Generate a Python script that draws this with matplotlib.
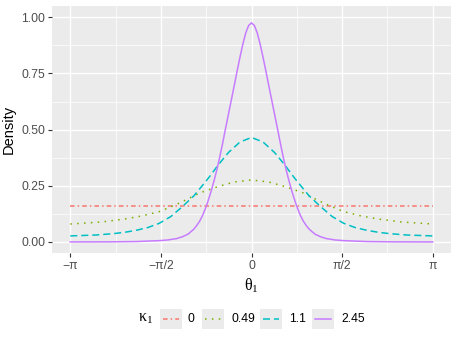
import numpy as np
import matplotlib
matplotlib.use("Agg")
import matplotlib.pyplot as plt
from matplotlib.patches import Rectangle
from matplotlib.lines import Line2D

plt.rcParams['font.family'] = ['Liberation Sans', 'DejaVu Sans']
plt.rcParams['mathtext.fontset'] = 'custom'
plt.rcParams['mathtext.rm'] = 'Liberation Serif'

PI = np.pi

# values (theta in radians, density)
theta_k0 = [-PI, PI]
dens_k0 = [0.159, 0.159]

theta_k049 = [-PI, -2.6, -2.2, -1.9, -1.6, -1.3, -1.1, -0.9, -0.6, -0.3, 0.0,
              0.3, 0.6, 0.9, 1.1, 1.3, 1.6, 1.9, 2.2, 2.6, PI]
dens_k049 = [0.080, 0.089, 0.102, 0.116, 0.135, 0.167, 0.192, 0.218, 0.245, 0.267, 0.276,
             0.267, 0.245, 0.218, 0.192, 0.167, 0.135, 0.116, 0.102, 0.089, 0.080]

theta_k11 = [-PI, -2.7, -2.4, -2.2, -2.0, -1.8, -1.6, -1.4, -1.2, -1.0, -0.9, -0.8,
             -0.7, -0.6, -0.5, -0.4, -0.2, 0.0,
             0.2, 0.4, 0.5, 0.6, 0.7, 0.8, 0.9, 1.0, 1.2, 1.4, 1.6, 1.8, 2.0, 2.2,
             2.4, 2.7, PI]
dens_k11 = [0.027, 0.031, 0.037, 0.043, 0.052, 0.064, 0.083, 0.113, 0.157, 0.205, 0.236, 0.267,
            0.300, 0.335, 0.367, 0.398, 0.445, 0.465,
            0.445, 0.398, 0.367, 0.335, 0.300, 0.267, 0.236, 0.205, 0.157, 0.113, 0.083, 0.064,
            0.052, 0.043, 0.037, 0.031, 0.027]

theta_k245 = [-PI, -2.5, -2.0, -1.6, -1.45, -1.3, -1.2, -1.1, -1.0, -0.95, -0.9, -0.85,
              -0.8, -0.75, -0.7, -0.65, -0.6, -0.55, -0.5, -0.45, -0.4, -0.35, -0.3,
              -0.25, -0.2, -0.15, -0.1, -0.05, 0.0,
              0.05, 0.1, 0.15, 0.2, 0.25, 0.3, 0.35, 0.4, 0.45, 0.5, 0.55, 0.6, 0.65,
              0.7, 0.75, 0.8, 0.85, 0.9, 0.95, 1.0, 1.1, 1.2, 1.3, 1.45, 1.6, 2.0, 2.5, PI]
dens_k245 = [0.0002, 0.0005, 0.002, 0.006, 0.009, 0.015, 0.023, 0.035, 0.057, 0.073, 0.092,
             0.117, 0.148, 0.185, 0.226, 0.272, 0.322, 0.378, 0.440, 0.505, 0.568, 0.632,
             0.695, 0.760, 0.822, 0.880, 0.930, 0.963, 0.975,
             0.963, 0.930, 0.880, 0.822, 0.760, 0.695, 0.632, 0.568, 0.505, 0.440, 0.378,
             0.322, 0.272, 0.226, 0.185, 0.148, 0.117, 0.092, 0.073, 0.057, 0.035, 0.023,
             0.015, 0.009, 0.006, 0.002, 0.0005, 0.0002]

kappa_labels = ['0', '0.49', '1.1', '2.45']
colors = ['#F8766D', '#7CAE00', '#00BFC4', '#C77CFF']
dashes = [(3, 2, 1, 2), (1, 3.5), (4.6, 2.6), None]

W, H = 458, 343
fig = plt.figure(figsize=(W / 100, H / 100), dpi=100)
ax = fig.add_axes([52 / W, 1 - 253 / H, (451 - 52) / W, (253 - 6) / H])
ax.set_facecolor('#EBEBEB')

series = [(theta_k0, dens_k0), (theta_k049, dens_k049),
          (theta_k11, dens_k11), (theta_k245, dens_k245)]
for (t, d), c, ds in zip(series, colors, dashes):
    line, = ax.plot(t, d, color=c, lw=1.1, zorder=3)
    if ds is not None:
        line.set_dashes(ds)

# axes like ggplot's theme_gray
ax.set_xlim(-PI - 0.317, PI + 0.317)
ax.set_ylim(-0.049, 1.05)
ax.set_xticks([-PI, -PI / 2, 0, PI / 2, PI])
ax.set_xticklabels(['\u2212\u03c0', '\u2212\u03c0/2', '0', '\u03c0/2', '\u03c0'])
ax.set_xticks([-3 * PI / 4, -PI / 4, PI / 4, 3 * PI / 4], minor=True)
ax.set_yticks([0, 0.25, 0.5, 0.75, 1.0])
ax.set_yticklabels(['0.00', '0.25', '0.50', '0.75', '1.00'])
ax.set_yticks([0.125, 0.375, 0.625, 0.875], minor=True)
ax.grid(which='major', color='white', lw=1.0)
ax.grid(which='minor', color='white', lw=0.5)
ax.set_axisbelow(True)
for s in ax.spines.values():
    s.set_visible(False)
ax.tick_params(which='major', length=3, width=0.8, color='#333333',
               labelcolor='#4D4D4D', labelsize=8.8, pad=2)
ax.tick_params(which='minor', length=0)

ax.set_xlabel('\u03b8$_1$', fontsize=11.5, labelpad=3,
              family=['Liberation Serif', 'DejaVu Serif'])
ax.set_ylabel('Density', fontsize=10.5, labelpad=4)

# legend at the bottom, drawn by hand to get ggplot's gray key boxes
def fx(px):
    return px / W

def fy(py):
    return 1 - py / H

fig.text(fx(146), fy(318), '\u03ba$_1$', fontsize=11.5, ha='center', va='center',
         family=['Liberation Serif', 'DejaVu Serif'])
boxes = [160, 202, 260, 312]
label_x = [188, 231, 289, 341]
for bx, lx, lab, c, ds in zip(boxes, label_x, kappa_labels, colors, dashes):
    fig.add_artist(Rectangle((fx(bx), fy(329)), 22 / W, 20 / H,
                             transform=fig.transFigure, facecolor='#EBEBEB',
                             edgecolor='none'))
    ln = Line2D([fx(bx + 3), fx(bx + 19)], [fy(319), fy(319)],
                transform=fig.transFigure, color=c, lw=1.1)
    if ds is not None:
        ln.set_dashes(ds)
    fig.add_artist(ln)
    fig.text(fx(lx), fy(319), lab, fontsize=8.8, ha='left', va='center')

fig.savefig('out.png', dpi=100)
